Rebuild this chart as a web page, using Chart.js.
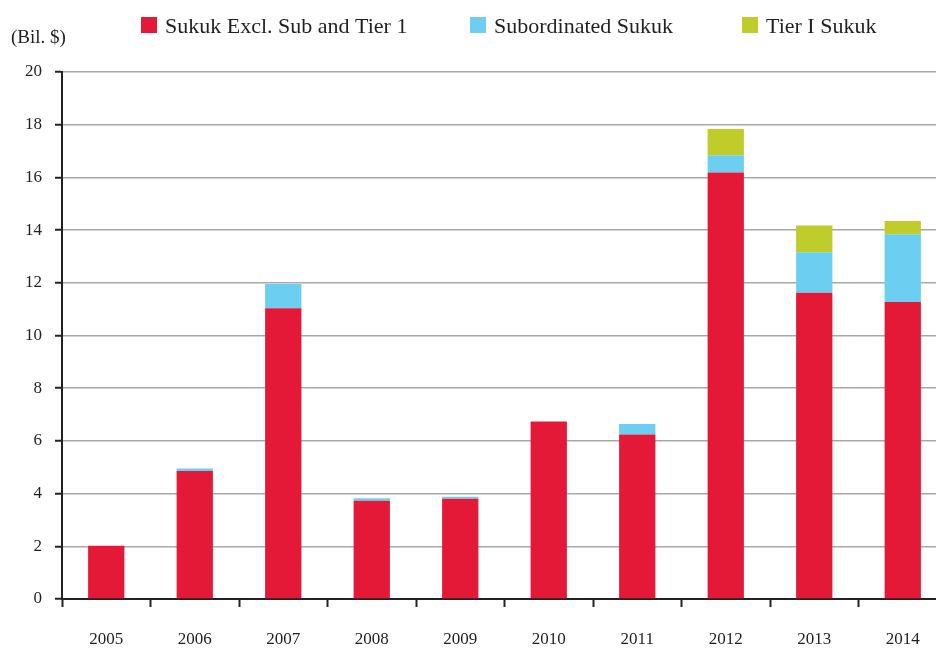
<!DOCTYPE html>
<html>
<head>
<meta charset="utf-8">
<script src="https://cdn.jsdelivr.net/npm/chart.js@4/dist/chart.umd.min.js"></script>
<style>
  html, body { margin: 0; padding: 0; background: #ffffff; overflow: hidden; }
  #wrap { position: relative; width: 947px; height: 648px; }
</style>
</head>
<body>
<div id="wrap"><canvas id="c"></canvas></div>
<script>
const years = ['2005', '2006', '2007', '2008', '2009', '2010', '2011', '2012', '2013', '2014'];
const sukukExcl = [2.02, 4.86, 11.03, 3.73, 3.80, 6.74, 6.24, 16.19, 11.62, 11.27];
const subordinated = [0, 0.09, 0.92, 0.09, 0.08, 0, 0.40, 0.65, 1.54, 2.57];
const tier1 = [0, 0, 0, 0, 0, 0, 0, 1.00, 1.01, 0.51];
const seriesNames = ['Sukuk Excl. Sub and Tier 1', 'Subordinated Sukuk', 'Tier I Sukuk'];
const yTitle = '(Bil. $)';

const FONT = '"Liberation Serif", "Times New Roman", serif';
const TEXT = '#231f20';

const customLegend = {
  id: 'customLegend',
  afterDraw(chart, args, opts) {
    const ctx = chart.ctx;
    ctx.save();
    ctx.font = '22px ' + FONT;
    ctx.textBaseline = 'alphabetic';
    ctx.textAlign = 'left';
    chart.data.datasets.forEach((ds, i) => {
      const x = opts.xs[i];
      ctx.fillStyle = ds.backgroundColor;
      ctx.fillRect(x, 17, 16, 16);
      ctx.fillStyle = TEXT;
      ctx.fillText(ds.label, x + 24, 33);
    });
    ctx.font = '19px ' + FONT;
    ctx.fillStyle = TEXT;
    ctx.fillText(yTitle, 11, 43);
    ctx.restore();
  }
};

new Chart(document.getElementById('c'), {
  type: 'bar',
  data: {
    labels: years,
    datasets: [
      { label: seriesNames[0], data: sukukExcl, backgroundColor: '#e41937' },
      { label: seriesNames[1], data: subordinated, backgroundColor: '#6ccff2' },
      { label: seriesNames[2], data: tier1, backgroundColor: '#bfcc2a' }
    ]
  },
  options: {
    responsive: true,
    maintainAspectRatio: false,
    animation: false,
    devicePixelRatio: 1,
    layout: { padding: { top: 72, left: 0, right: 0, bottom: 0 } },
    datasets: { bar: { barPercentage: 0.41, categoryPercentage: 1.0, borderWidth: 0 } },
    plugins: {
      legend: { display: false },
      tooltip: { enabled: false },
      customLegend: { xs: [141, 470, 742] }
    },
    scales: {
      x: {
        stacked: true,
        offset: true,
        afterFit(scale) { scale.height = 49; },
        grid: { display: true, drawOnChartArea: false, drawTicks: true, offset: true, tickLength: 8, tickColor: '#222', tickWidth: 2 },
        border: { display: true, color: '#222', width: 2 },
        ticks: { color: TEXT, font: { family: FONT, size: 17 }, padding: 22, maxRotation: 0, autoSkip: false }
      },
      y: {
        stacked: true,
        min: 0,
        max: 20,
        afterFit(scale) { scale.width = 62; },
        ticks: { stepSize: 2, color: TEXT, font: { family: FONT, size: 17 }, padding: 13 },
        grid: { color: '#a8a8a8', lineWidth: 1.5, drawTicks: true, tickLength: 7, tickColor: '#222', tickWidth: 2 },
        border: { display: true, color: '#222', width: 2 }
      }
    }
  },
  plugins: [customLegend]
});
</script>
</body>
</html>
